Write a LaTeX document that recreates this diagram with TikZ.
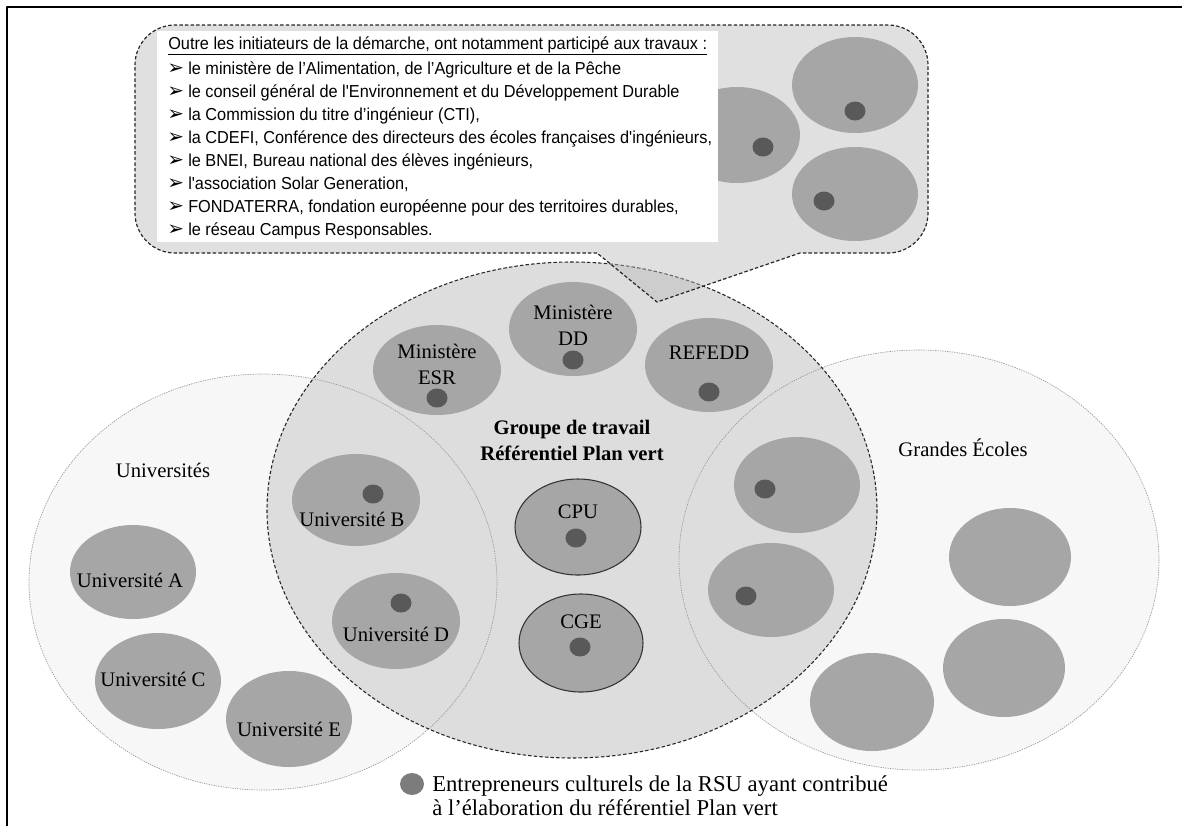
\documentclass[tikz,border=0pt]{standalone}
\usepackage{fontspec}
\setmainfont{Liberation Serif}
\newfontfamily\notefont[FakeStretch=0.94]{Liberation Sans}
\newfontfamily\arrowfont{DejaVu Sans}
\definecolor{blobgray}{HTML}{A6A6A6}
\definecolor{dotgray}{HTML}{595959}
\definecolor{keygray}{HTML}{7C7C7C}
\definecolor{setfill}{HTML}{F7F7F7}
\definecolor{groupfill}{HTML}{DDDDDD}
\definecolor{notefill}{HTML}{B9B9B9}
\newcommand{\lblsize}{\fontsize{15.5}{19.5}\selectfont}
\tikzset{
  blob/.style={fill=blobgray},
  member/.style={fill=dotgray},
  setline/.style={draw=black!40, line width=0.5pt, dash pattern=on 1pt off 0.8pt},
  groupline/.style={draw=black!85, line width=0.8pt, dash pattern=on 2.6pt off 1.6pt},
  notebox/.style={fill=notefill, fill opacity=0.44, draw=black!85, line width=0.9pt, dash pattern=on 2.6pt off 1.6pt},
  lbl/.style={font=\lblsize, inner sep=0pt, align=center},
  noteline/.style={font=\notefont\fontsize{13}{15}\selectfont, anchor=base west, inner sep=0pt},
}
\begin{document}
\begin{tikzpicture}[x=0.75pt, y=-0.75pt, line join=round]
\useasboundingbox (0,0) rectangle (1182,826);
\draw[line width=1.5pt] (7,826) -- (7,7) -- (1182,7);
% the three sets
\fill[setfill] (263,582) ellipse [x radius=234, y radius=208];
\fill[setfill] (919,560) ellipse [x radius=240, y radius=210];
\fill[groupfill] (572,510) ellipse [x radius=305, y radius=248];
\draw[setline] (263,582) ellipse [x radius=234, y radius=208];
\draw[setline] (919,560) ellipse [x radius=240, y radius=210];
\draw[groupline] (572,510) ellipse [x radius=305, y radius=248];
% callout
\filldraw[notebox] (597,253) [rounded corners=30] -- (135,253) -- (135,25) -- (928,25) -- (928,253) [sharp corners] -- (800,253) -- (657,302) -- cycle;
\fill[blob] (737,135) ellipse [x radius=63, y radius=48];
\fill[blob] (855,85) ellipse [x radius=63, y radius=48];
\fill[blob] (855,194) ellipse [x radius=63, y radius=47];
\fill[white] (157,31) rectangle (718,242);
\node[noteline] (title) at (168,49) {\underline{Outre les initiateurs de la démarche, ont notamment participé aux travaux :}};
\foreach \t [count=\i] in {{le ministère de l’Alimentation, de l’Agriculture et de la Pêche},
  {le conseil général de l'Environnement et du Développement Durable},
  {la Commission du titre d’ingénieur (CTI),},
  {la CDEFI, Conférence des directeurs des écoles françaises d'ingénieurs,},
  {le BNEI, Bureau national des élèves ingénieurs,},
  {l'association Solar Generation,},
  {FONDATERRA, fondation européenne pour des territoires durables,},
  {le réseau Campus Responsables.}}{
  \node[noteline, font=\arrowfont\fontsize{15}{17}\selectfont] (mark\i) at (167,{51+23*\i}) {\char"27A2};
  \node[noteline] (item\i) at (188,{51+23*\i}) {\t};
}
% members and partners
\foreach \x/\y/\a/\b in {437/370/64/45, 573/329/64/47, 709/365/64/47, 356/500/64/46, 396/621/64/48,
  133/572/63/47, 158/681/63/48, 289/719/63/48,
  797/485/63/48, 771/590/63/47, 1010/557/61/49, 1004/668/61/49, 872/702/62/49}
  \fill[blob] (\x,\y) ellipse [x radius=\a, y radius=\b];
\filldraw[blob, draw=black!80, line width=0.8pt] (578,527) ellipse [x radius=63, y radius=48];
\filldraw[blob, draw=black!80, line width=0.8pt] (581,643) ellipse [x radius=62, y radius=49];
\foreach \x/\y in {763/147, 855/111, 824/201, 437/398, 573/360, 709/392, 373/494, 401/603,
  576/538, 580/647, 765/489, 746/596}
  \fill[member] (\x,\y) ellipse [x radius=10.5, y radius=9.5];
% labels
\node[lbl] (univs) at (163,470) {Universités};
\node[lbl] (ecoles) at (963,448) {Grandes Écoles};
\node[lbl] (univA) at (130,580) {Université A};
\node[lbl] (univC) at (153,679) {Université C};
\node[lbl] (univE) at (289,729) {Université E};
\node[lbl] (univB) at (352,519) {Université B};
\node[lbl] (univD) at (396,634) {Université D};
\node[lbl] (esr) at (437,364) {Ministère\\ESR};
\node[lbl] (dd) at (573,325) {Ministère\\DD};
\node[lbl] (refedd) at (709,353) {REFEDD};
\node[lbl, font=\lblsize\bfseries] (groupe) at (572,440) {Groupe de travail\\Référentiel Plan vert};
\node[lbl] (cpu) at (578,512) {CPU};
\node[lbl] (cge) at (581,622) {CGE};
% legend
\fill[keygray] (412,784) ellipse [x radius=12, y radius=11];
\node[lbl, anchor=west, align=left, font=\fontsize{17}{18}\selectfont] (key) at (432,796) {Entrepreneurs culturels de la RSU ayant contribué\\à l’élaboration du référentiel Plan vert};
\end{tikzpicture}
\end{document}
